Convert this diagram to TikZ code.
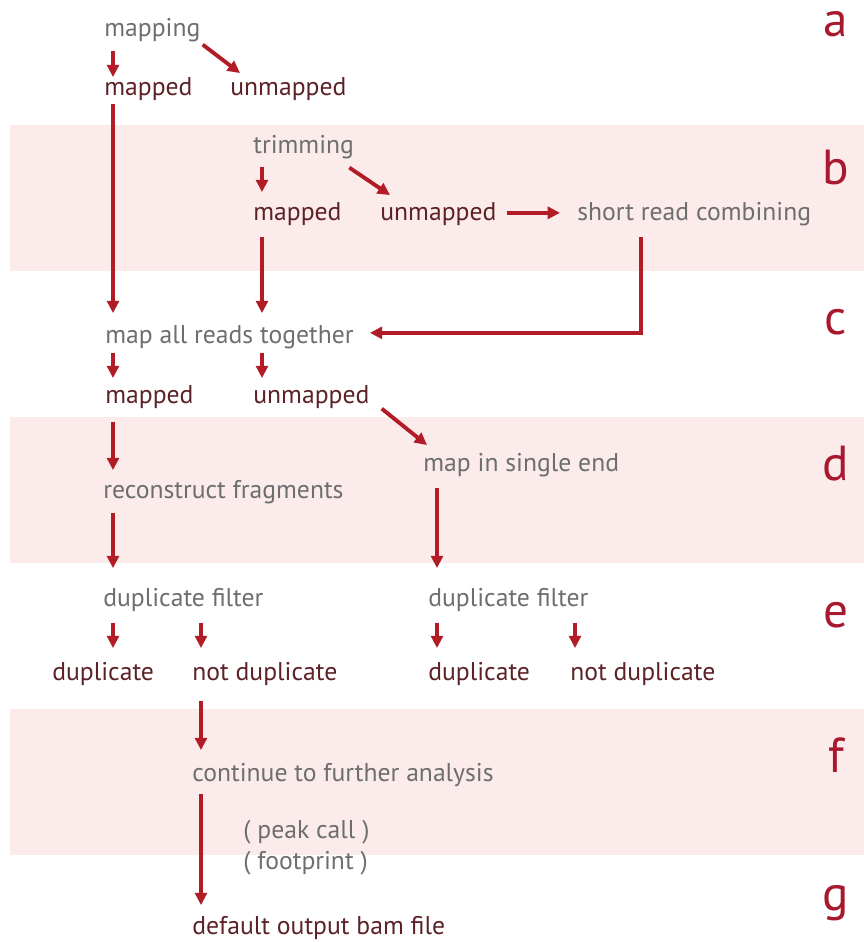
\documentclass[tikz,border=0pt]{standalone}
\usepackage{fontspec}
\setmainfont{PT Sans}
\usetikzlibrary{arrows.meta,calc}
\definecolor{stepgray}{RGB}{109,110,112}
\definecolor{outred}{RGB}{92,34,38}
\definecolor{arrowred}{RGB}{178,28,38}
\definecolor{letterred}{RGB}{168,25,46}
\definecolor{bandpink}{RGB}{252,235,235}
\tikzset{
  band/.style={fill=bandpink},
  proc/.style={anchor=base west, inner sep=0pt, text height=10pt, text depth=3pt,
    text=stepgray, font=\fontsize{14.6}{16}\selectfont},
  outcome/.style={proc, text=outred},
  panel/.style={anchor=base, inner sep=0pt, text=letterred, font=\fontsize{28}{30}\selectfont},
  flow/.style={draw=arrowred, line width=2.2pt, -{Triangle[length=7pt,width=6.8pt]}}
}
\begin{document}
\begin{tikzpicture}[x=0.02cm,y=-0.02cm]
    \useasboundingbox (0,0) rectangle (864,942);
    \fill[band] (10,125) rectangle (864,271);
    \fill[band] (10,417) rectangle (864,563);
    \fill[band] (10,709) rectangle (864,855);
    % panel letters
    \node[panel] (pa) at (836,37) {a};
    \node[panel] (pb) at (836,185) {b};
    \node[panel] (pc) at (836,334) {c};
    \node[panel] (pd) at (836,480) {d};
    \node[panel] (pe) at (836,627) {e};
    \node[panel] (pf) at (836,772) {f};
    \node[panel] (pg) at (836,910) {g};
    % a
    \node[proc] (mapping) at (104,37) {mapping};
    \node[outcome] (mappedA) at (104,96) {mapped};
    \node[outcome] (unmappedA) at (230,96) {unmapped};
    % b
    \node[proc] (trimming) at (253,154) {trimming};
    \node[outcome] (mappedB) at (253,221) {mapped};
    \node[outcome] (unmappedB) at (380,221) {unmapped};
    \node[proc] (combine) at (577,221) {short read combining};
    % c
    \node[proc] (mapall) at (105,343) {map all reads together};
    \node[outcome] (mappedC) at (105,403) {mapped};
    \node[outcome] (unmappedC) at (253,403) {unmapped};
    % d
    \node[proc] (single) at (423,471) {map in single end};
    \node[proc] (rebuild) at (103,498) {reconstruct fragments};
    % e
    \node[proc] (dupfiltA) at (103,606) {duplicate filter};
    \node[proc] (dupfiltB) at (428,606) {duplicate filter};
    \node[outcome] (dupA) at (52,680) {duplicate};
    \node[outcome] (notdupA) at (192,680) {not duplicate};
    \node[outcome] (dupB) at (428,680) {duplicate};
    \node[outcome] (notdupB) at (570,680) {not duplicate};
    % f, g
    \node[proc] (further) at (192,781) {continue to further analysis};
    \node[proc] (peak) at (243,838) {( peak call )};
    \node[proc] (foot) at (243,869) {( footprint )};
    \node[outcome] (output) at (192,934) {default output bam file};

    \draw[flow] ($(mapping.south west)+(9,8)$) -- ($(mappedA.north west)+(9,-1)$);
    \draw[flow] ($(mapping.south east)+(2,2)$) -- ($(unmappedA.north west)+(10,-5)$);
    \draw[flow] ($(mappedA.south west)+(9,2)$) -- ($(mapall.north west)+(8,-12)$);
    \draw[flow] ($(trimming.south west)+(9,7)$) -- ($(mappedB.north west)+(9,-11)$);
    \draw[flow] ($(trimming.south east)+(-5,8)$) -- ($(unmappedB.north west)+(10,-8)$);
    \draw[flow] ($(unmappedB.east)+(10,-2)$) -- ($(combine.west)+(-17,-2)$);
    \draw[flow] ($(mappedB.south west)+(9,10)$) -- ($(mappedB.south west |- mapall.north)+(9,-12)$);
    \draw[flow] ($(combine.south west)+(64,10)$) |- ($(mapall.east)+(16,-4)$);
    \draw[flow] ($(mapall.south west)+(8,4)$) -- ($(mappedC.north west)+(8,-7)$);
    \draw[flow] ($(unmappedC.north west |- mapall.south)+(9,4)$) -- ($(unmappedC.north west)+(9,-7)$);
    \draw[flow] ($(mappedC.south west)+(8,13)$) -- ($(rebuild.north west)+(10,-10)$);
    \draw[flow] ($(unmappedC.south east)+(12,0)$) -- ($(single.north west)+(4,-8)$);
    \draw[flow] ($(rebuild.south west)+(10,9)$) -- ($(dupfiltA.north west)+(10,-20)$);
    \draw[flow] ($(single.south west)+(14,11)$) -- ($(dupfiltB.north west)+(9,-20)$);
    \draw[flow] ($(dupfiltA.south west)+(10,11)$) -- ($(dupfiltA.south west |- dupA.north)+(10,-14)$);
    \draw[flow] ($(notdupA.north west |- dupfiltA.south)+(9,11)$) -- ($(notdupA.north west)+(9,-14)$);
    \draw[flow] ($(dupfiltB.south west)+(9,11)$) -- ($(dupB.north west)+(9,-14)$);
    \draw[flow] ($(notdupB.north west |- dupfiltB.south)+(5,11)$) -- ($(notdupB.north west)+(5,-14)$);
    \draw[flow] ($(notdupA.south west)+(9,15)$) -- ($(further.north west)+(9,-13)$);
    \draw[flow] ($(further.south west)+(9,7)$) -- ($(output.north west)+(9,-11)$);
\end{tikzpicture}
\end{document}
